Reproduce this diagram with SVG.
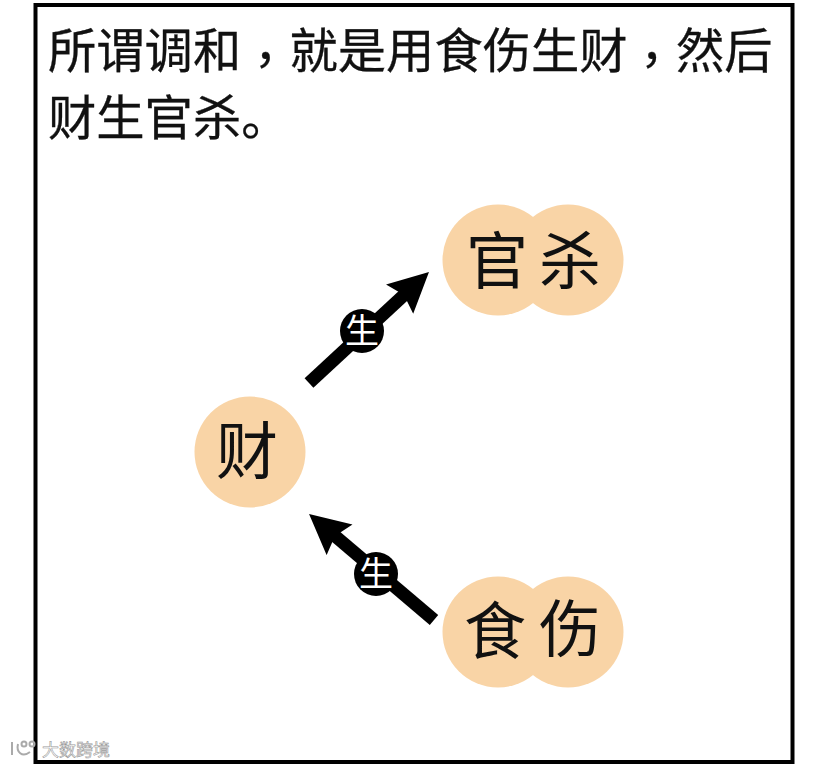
<svg xmlns="http://www.w3.org/2000/svg" width="828" height="766" viewBox="0 0 828 766">
<defs>
<style>
.t{font-family:"Noto Sans CJK SC","Noto Sans CJK JP",sans-serif;fill:#111}
.h{font-size:48.300px;stroke:#111;stroke-width:.3px}
.p{font-family:"Noto Sans CJK TC",sans-serif}
.n{font-size:62px;text-anchor:middle}
.s{font-size:34px;fill:#fff;text-anchor:middle}
.c{fill:#f9d4a6}
.a{stroke:#000;stroke-width:13;fill:none}
.w{fill:none;stroke:#aaa;stroke-width:2}
</style>
<marker id="ah" markerUnits="userSpaceOnUse" markerWidth="44" markerHeight="44" refX="20" refY="20" orient="auto"><path d="M0 0L40 20L0 40L6 20Z" fill="#000"/></marker>
</defs>
<rect width="828" height="766" fill="#fff"/>
<rect x="35.500" y="5" width="757" height="757" fill="#fff" stroke="#000" stroke-width="4"/>
<text class="t h" x="48" y="68">所谓调和<tspan class="p" dy="9">，</tspan><tspan dy="-9">就是用食伤生财</tspan><tspan class="p" dy="9">，</tspan><tspan dy="-9">然后</tspan></text>
<text class="t h" x="48" y="135">财生官杀。</text>
<g id="connectors">
<line class="a" x1="309" y1="383" x2="414.300" y2="285.600" marker-end="url(#ah)"/>
<line class="a" x1="434" y1="620" x2="324.300" y2="526.900" marker-end="url(#ah)"/>
</g>
<g id="sheng1"><circle cx="362" cy="331" r="22" fill="#000"/><text class="t s" x="362" y="343">生</text></g>
<g id="sheng2"><circle cx="376" cy="574" r="22" fill="#000"/><text class="t s" x="376" y="586">生</text></g>
<g id="guansha"><circle class="c" cx="498" cy="260" r="55.500"/><circle class="c" cx="568" cy="260" r="55.500"/><text class="t n" x="497" y="284">官</text><text class="t n" x="570" y="284">杀</text></g>
<g id="cai"><circle class="c" cx="250" cy="452" r="55.500"/><text class="t n" x="247" y="474">财</text></g>
<g id="shishang"><circle class="c" cx="498" cy="632" r="55.500"/><circle class="c" cx="568" cy="632" r="55.500"/><text class="t n" x="495" y="654">食</text><text class="t n" x="570" y="652">伤</text></g>
<g id="watermark"><path class="w" d="M12 742V755M18 744C16 752 22 758 30 752"/><circle class="w" cx="24" cy="744" r="2.500"/><circle class="w" cx="32" cy="744" r="2.500"/><text x="42" y="756" font-family="Noto Sans CJK SC,sans-serif" font-size="17" fill="#fff" stroke="#999" stroke-width="0.600">大数跨境</text></g>
</svg>
